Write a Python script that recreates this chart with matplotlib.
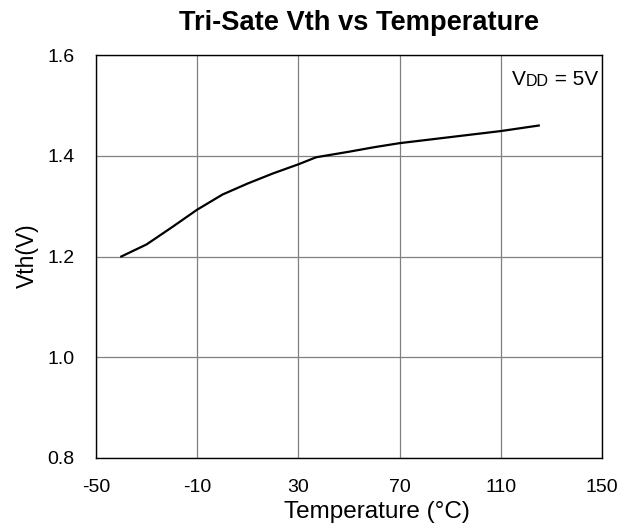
import matplotlib
matplotlib.use("Agg")
import matplotlib.pyplot as plt

temps = [-40, -30, -20, -10, 0, 10, 20, 30, 37, 50, 60, 70, 80, 90, 100, 110, 125]
vth = [1.200, 1.224, 1.258, 1.293, 1.323, 1.345, 1.365, 1.383, 1.397, 1.408, 1.417, 1.425, 1.431, 1.437, 1.443, 1.449, 1.460]
xticks = [-50, -10, 30, 70, 110, 150]
yticks = [0.8, 1.0, 1.2, 1.4, 1.6]

plt.rcParams['font.family'] = ['Liberation Sans', 'DejaVu Sans']

W, H = 629, 530
fig = plt.figure(figsize=(W/100, H/100), dpi=100)
ax = fig.add_axes([96/W, 1-458/H, (602-96)/W, (458-55)/H])

ax.plot(temps, vth, color='black', lw=1.6, solid_joinstyle='round')
ax.set_xlim(-50, 150)
ax.set_ylim(0.8, 1.6)
ax.set_xticks(xticks)
ax.set_xticklabels([str(t) for t in xticks])
ax.set_yticks(yticks)
ax.set_yticklabels([f"{t:.1f}" for t in yticks])
ax.grid(True, color='#808080', lw=0.9)
ax.set_axisbelow(True)
for s in ax.spines.values():
    s.set_color('black')
    s.set_linewidth(1.0)
ax.tick_params(axis='x', length=0, pad=15, labelsize=14)
ax.tick_params(axis='y', length=0, pad=15.5, labelsize=14)

fig.text(359/W, 1-30/H, 'Tri-Sate Vth vs Temperature', ha='center', va='baseline',
         fontsize=19.6, fontweight='bold')
fig.text(377/W, 1-518/H, 'Temperature (°C)', ha='center', va='baseline', fontsize=17.5)
fig.text(27/W, 1-256/H, 'Vth(V)', ha='center', va='center', rotation=90, fontsize=16.5)

t1 = ax.text(512/W, 1-85/H, 'V', transform=fig.transFigure, ha='left', va='baseline', fontsize=15)
t2 = ax.annotate('DD', xy=(1, 0), xycoords=t1, ha='left', va='bottom', fontsize=11.5)
t3 = ax.annotate(' = 5V', xy=(1, 0), xycoords=t2, ha='left', va='bottom', fontsize=15)

fig.savefig('out.png', dpi=100)
